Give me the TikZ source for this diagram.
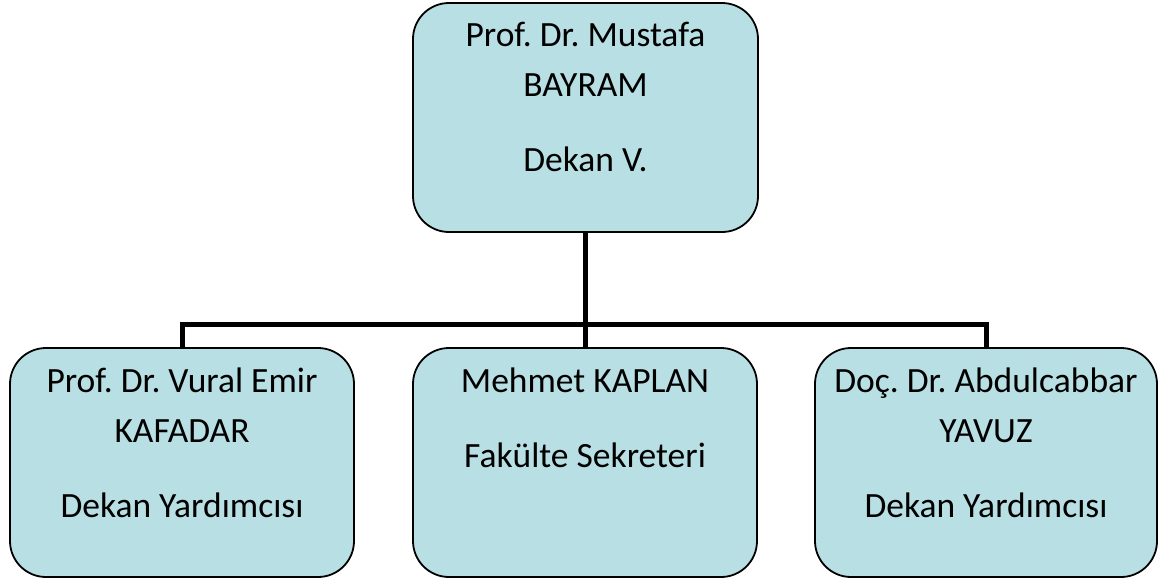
\documentclass[tikz,border=0pt]{standalone}
\usepackage{fontspec}
\setmainfont{Carlito}
\frenchspacing
\definecolor{boxfill}{HTML}{B8DFE3}
\tikzset{
  x=1pt, y=1pt,
  orgbox/.style={draw=black, line width=1.8pt, fill=boxfill, rounded corners=36pt,
    minimum width=#1, minimum height=229pt, inner sep=0pt},
  txt/.style={anchor=base, inner sep=0pt, font=\fontsize{35.5}{42}\selectfont},
  conn/.style={draw=black, line width=5pt}
}
\begin{document}
\begin{tikzpicture}
\useasboundingbox (0,0) rectangle (1162,-579);
\node[orgbox=345pt] (top) at (585.5,-117.5) {};
\node[orgbox=344pt] (left) at (182,-462.5) {};
\node[orgbox=344pt] (mid) at (585,-462.5) {};
\node[orgbox=342pt] (right) at (986,-462.5) {};
\coordinate (j) at (585.5,-324);
\draw[conn] (top.south) -- (j);
\draw[conn] (left.north) |- (j);
\draw[conn] (right.north) |- (j);
\draw[conn] (mid.north) -- (mid.north |- j);
\node[txt] (t1) at ([yshift=-44pt]top.north) {Prof. Dr. Mustafa};
\node[txt] (t2) at ([yshift=-94pt]top.north) {BAYRAM};
\node[txt] (t3) at ([yshift=-169pt]top.north) {Dekan V.};
\node[txt] (l1) at ([yshift=-45pt]left.north) {Prof. Dr. Vural Emir};
\node[txt] (l2) at ([yshift=-95pt]left.north) {KAFADAR};
\node[txt] (l3) at ([yshift=-170pt]left.north) {Dekan Yardımcısı};
\node[txt] (m1) at ([yshift=-45pt]mid.north) {Mehmet KAPLAN};
\node[txt] (m2) at ([yshift=-120pt]mid.north) {Fakülte Sekreteri};
\node[txt] (r1) at ([yshift=-45pt]right.north) {Doç. Dr. Abdulcabbar};
\node[txt] (r2) at ([yshift=-95pt]right.north) {YAVUZ};
\node[txt] (r3) at ([yshift=-170pt]right.north) {Dekan Yardımcısı};
\end{tikzpicture}
\end{document}
